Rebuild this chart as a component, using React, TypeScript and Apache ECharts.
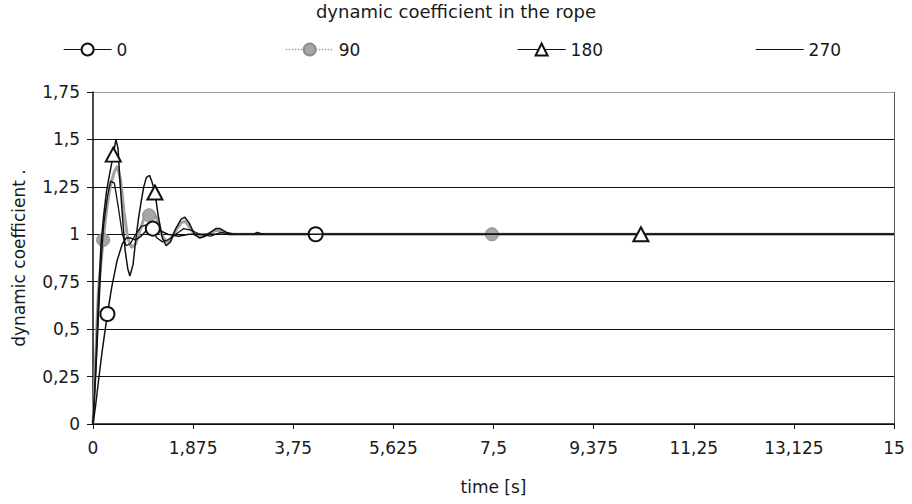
import React, { useEffect, useRef } from "react";
import * as echarts from "echarts";

// Chart texts
const chartTitle = "dynamic coefficient in the rope";
const xAxisName = "time [s]";
const yAxisName = "dynamic coefficient .";

// Series names (angle of the load)
const seriesNames = ["0", "90", "180", "270"];

// Angle 0: time [s], coefficient, times carrying a marker
const time0 = [0, 0.05, 0.1, 0.17, 0.27, 0.35, 0.45, 0.55, 0.62, 0.7, 0.8, 0.9, 1.0, 1.12, 1.25, 1.4, 1.6, 1.8, 2.0, 4.17, 15];
const coef0 = [0, 0.1, 0.22, 0.38, 0.58, 0.72, 0.86, 0.95, 0.98, 0.98, 0.97, 0.99, 1.02, 1.03, 1.02, 1.0, 0.99, 1.0, 1.0, 1.0, 1.0];
const marks0 = [0.27, 1.12, 4.17];

// Angle 90
const time90 = [0, 0.05, 0.1, 0.19, 0.25, 0.32, 0.4, 0.46, 0.52, 0.58, 0.65, 0.72, 0.8, 0.88, 0.95, 1.05, 1.12, 1.2, 1.28, 1.37, 1.45, 1.55, 1.65, 1.72, 1.8, 1.9, 2.0, 2.15, 2.3, 2.4, 2.55, 2.7, 7.47, 15];
const coef90 = [0, 0.35, 0.7, 0.97, 1.12, 1.25, 1.33, 1.36, 1.28, 1.12, 0.98, 0.93, 0.95, 1.02, 1.08, 1.1, 1.12, 1.08, 1.0, 0.96, 0.97, 1.02, 1.06, 1.07, 1.04, 1.0, 0.99, 1.0, 1.02, 1.02, 1.0, 1.0, 1.0, 1.0];
const marks90 = [0.19, 1.05, 7.47];

// Angle 180
const time180 = [0, 0.05, 0.1, 0.15, 0.2, 0.25, 0.3, 0.38, 0.43, 0.47, 0.5, 0.55, 0.6, 0.65, 0.69, 0.75, 0.8, 0.85, 0.9, 0.95, 1.0, 1.06, 1.1, 1.16, 1.22, 1.3, 1.37, 1.45, 1.55, 1.65, 1.72, 1.8, 1.9, 2.0, 2.1, 2.2, 2.3, 2.38, 2.5, 2.65, 2.8, 10.26, 15];
const coef180 = [0, 0.3, 0.65, 0.95, 1.1, 1.22, 1.3, 1.42, 1.5, 1.45, 1.3, 1.1, 0.92, 0.82, 0.78, 0.84, 0.97, 1.08, 1.17, 1.25, 1.3, 1.31, 1.28, 1.22, 1.1, 0.98, 0.94, 0.96, 1.03, 1.08, 1.09, 1.06, 1.0, 0.98, 0.99, 1.01, 1.03, 1.03, 1.01, 1.0, 1.0, 1.0, 1.0];
const marks180 = [0.38, 1.16, 10.26];

// Angle 270
const time270 = [0, 0.05, 0.1, 0.15, 0.2, 0.27, 0.33, 0.4, 0.47, 0.55, 0.62, 0.7, 0.8, 0.9, 1.0, 1.1, 1.2, 1.3, 1.4, 1.55, 1.7, 1.85, 2.0, 2.2, 2.4, 2.6, 2.8, 3.0, 3.07, 3.2, 15];
const coef270 = [0, 0.25, 0.55, 0.85, 1.05, 1.2, 1.28, 1.27, 1.15, 1.0, 0.94, 0.95, 1.0, 1.04, 1.05, 1.02, 0.98, 0.96, 0.97, 1.0, 1.03, 1.02, 1.0, 0.99, 1.01, 1.0, 1.0, 1.0, 1.01, 1.0, 1.0];
const marks270: number[] = [];

const FONT = "DejaVu Sans";

const commaLabel = (v: number) => String(v).replace(".", ",");

function toPoints(ts: number[], ks: number[], marks: number[]) {
  return ts.map((t, i) =>
    marks.indexOf(t) >= 0
      ? { value: [t, ks[i]] }
      : { value: [t, ks[i]], symbol: "none" }
  );
}

const legendCommon = {
  top: 36,
  itemWidth: 48,
  itemHeight: 15,
  selectedMode: false,
  lineStyle: { width: 1.2 },
  textStyle: { fontFamily: FONT, fontSize: 17, color: "#1a1a1a" },
};

export default function App() {
  const ref = useRef<HTMLDivElement>(null);

  useEffect(() => {
    if (!ref.current) return;
    const chart = echarts.init(ref.current, undefined, { renderer: "svg" });
    chart.setOption({
      animation: false,
      backgroundColor: "#ffffff",
      textStyle: { fontFamily: FONT },
      title: {
        text: chartTitle,
        left: "center",
        top: 2,
        padding: 0,
        textStyle: { fontFamily: FONT, fontSize: 18, fontWeight: "normal", color: "#1a1a1a" },
      },
      legend: [
        { ...legendCommon, left: 58, data: [seriesNames[0]] },
        {
          ...legendCommon,
          left: 280,
          data: [{ name: seriesNames[1], lineStyle: { type: "dotted", width: 1.5 } }],
        },
        { ...legendCommon, left: 512, data: [seriesNames[2]] },
        { ...legendCommon, left: 750, data: [seriesNames[3]] },
      ],
      grid: { left: 93, right: 18, top: 92, bottom: 80 },
      xAxis: {
        type: "value",
        min: 0,
        max: 15,
        interval: 1.875,
        name: xAxisName,
        nameLocation: "middle",
        nameGap: 54,
        nameTextStyle: { fontFamily: FONT, fontSize: 17, color: "#1a1a1a" },
        axisLine: { show: true, lineStyle: { color: "#111", width: 1.5 } },
        axisTick: { show: true, inside: false, length: 5, lineStyle: { color: "#111" } },
        axisLabel: {
          margin: 15,
          fontFamily: FONT,
          fontSize: 17,
          color: "#1a1a1a",
          formatter: commaLabel,
        },
        splitLine: {
          show: true,
          lineStyle: {
            color: ["transparent", "transparent", "transparent", "transparent", "transparent", "transparent", "transparent", "transparent", "#555"],
            width: 1,
          },
        },
      },
      yAxis: {
        type: "value",
        min: 0,
        max: 1.75,
        interval: 0.25,
        name: yAxisName,
        nameLocation: "middle",
        nameGap: 66,
        nameTextStyle: { fontFamily: FONT, fontSize: 17, color: "#1a1a1a" },
        axisLine: { show: true, lineStyle: { color: "#111", width: 1.5 } },
        axisTick: { show: true, inside: false, length: 6, lineStyle: { color: "#111" } },
        axisLabel: {
          margin: 13,
          fontFamily: FONT,
          fontSize: 17,
          color: "#1a1a1a",
          formatter: commaLabel,
        },
        splitLine: {
          show: true,
          lineStyle: {
            color: ["#111", "#111", "#111", "#111", "#111", "#111", "#111", "#a0a0a0"],
            width: 1.2,
          },
        },
      },
      series: [
        {
          name: seriesNames[1],
          type: "line",
          z: 2,
          data: toPoints(time90, coef90, marks90),
          symbol: "circle",
          symbolSize: 13,
          showSymbol: true,
          showAllSymbol: true,
          lineStyle: { color: "#a2a2a2", width: 3 },
          itemStyle: { color: "#a6a6a6", borderColor: "#8c8c8c", borderWidth: 1 },
          emphasis: { disabled: true },
        },
        {
          name: seriesNames[0],
          type: "line",
          z: 3,
          data: toPoints(time0, coef0, marks0),
          symbol: "emptyCircle",
          symbolSize: 14,
          showSymbol: true,
          showAllSymbol: true,
          lineStyle: { color: "#111", width: 1.5 },
          itemStyle: { color: "#111", borderWidth: 1.5 },
          emphasis: { disabled: true },
        },
        {
          name: seriesNames[2],
          type: "line",
          z: 4,
          data: toPoints(time180, coef180, marks180),
          symbol: "emptyTriangle",
          symbolSize: [15, 14],
          showSymbol: true,
          showAllSymbol: true,
          lineStyle: { color: "#111", width: 1.5 },
          itemStyle: { color: "#111", borderWidth: 1.5 },
          emphasis: { disabled: true },
        },
        {
          name: seriesNames[3],
          type: "line",
          z: 3,
          data: toPoints(time270, coef270, marks270),
          symbol: "none",
          showSymbol: false,
          lineStyle: { color: "#111", width: 1.3 },
          itemStyle: { color: "rgba(0,0,0,0)" },
          emphasis: { disabled: true },
        },
      ],
    });
    return () => chart.dispose();
  }, []);

  return (
    <div
      ref={ref}
      style={{ position: "fixed", left: 0, top: 0, width: 912, height: 504, background: "#fff" }}
    />
  );
}
